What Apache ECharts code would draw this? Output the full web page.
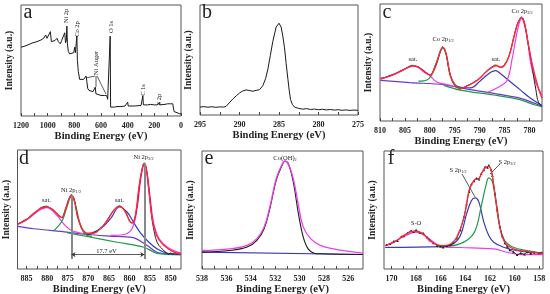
<!DOCTYPE html>
<html lang="en">
<head>
    <meta charset="UTF-8"/>
    <title>XPS spectra</title>
    <script src="https://cdn.jsdelivr.net/npm/echarts@6/dist/echarts.min.js"></script>
    <style>
        html, body { margin: 0; padding: 0; background: #fff; }
        #chart { width: 550px; height: 294px; }
    </style>
</head>
<body>
<div id="chart"></div>
<script type="text/javascript">
    // tick labels (binding energy, eV)
    var ticksA = [0, 200, 400, 600, 800, 1000, 1200];
    var ticksB = [275, 280, 285, 290, 295];
    var ticksC = [780, 785, 790, 795, 800, 805, 810];
    var ticksD = [850, 855, 860, 865, 870, 875, 880, 885];
    var ticksE = [526, 528, 530, 532, 534, 536, 538];
    var ticksF = [158, 160, 162, 164, 166, 168, 170];

    // a - survey [eV, intensity]
    var survey = [[1200,62],[1170,63],[1140,64.5],[1110,66],[1080,67],[1050,68.5],[1030,70],[1015,73],[1005,70],[990,71],
        [980,76],[972,67],[960,67],[945,68],[930,70],[920,67],[905,65],[895,68],[880,69],[872,75],[866,66],[860,68],[856,81],
        [852,65],[845,58],[835,56],[820,55],[805,57],[797,62],[792,57],[786,57],[781,72],[777,50],[770,40],[760,33],[745,32],
        [730,33],[718,34],[712,36],[706,31],[700,25],[690,23],[675,22.5],[660,22],[650,21],[643,26],[638,20],[625,19],[600,18.5],
        [575,18.5],[565,19],[558,18.5],[550,15],[535,14],[531,72],[528,8],[520,8],[500,8],[480,8.5],[450,8.5],[420,9],[405,9],
        [400,12.5],[396,9],[350,9],[300,9.5],[290,10],[286,18],[282,10],[250,10],[230,10.5],[225,9.5],[200,10],[180,10],
        [168,10.5],[164,12],[160,10],[120,10.5],[100,11],[80,11],[68,11.8],[62,11],[57,10.5],[52,4],[30,3],[10,2],[0,2]];

    // b - C 1s
    var c1s = [[295,7.2],[294.5,7.6],[294,7.1],[293.5,7.5],[293,7.0],[292.5,7.4],[292,7.2],[291.7,7.8],[291.3,11],[290.86,14.5],
        [290.4,17.5],[290,20],[289.6,21.8],[289.16,22.8],[288.7,22.2],[288.3,21.6],[287.9,22.4],[287.47,23],[287.05,26.6],
        [286.7,33],[286.4,42],[286.1,54],[285.78,67],[285.36,80],[285.0,83.4],[284.73,80],[284.5,71],[284.3,61],[284.1,47],
        [283.88,33],[283.7,22],[283.54,14],[283.3,9.5],[283.03,7.2],[282.5,6],[281.98,5.3],[281.5,5.8],[281,5],[280.5,5.4],
        [280,4.8],[279.5,5.2],[279,4.6],[278.5,5],[278,4.5],[277.5,4.8],[277,4.3],[276.5,4.6],[276,4.2],[275.5,4.5],[275,4.2]];

    // c - Co 2p
    var coRaw = [[809.9,36.5],[809,37.2],[808,38.8],[807,40.2],[806,42.6],[805,44.5],[804.3,46.2],[803.6,47.6],[803,47],
        [802.3,46.3],[801.6,44],[800.9,41.5],[800.3,39.8],[799.9,39.2],[799.4,42],[798.9,47.6],[798.4,53],[797.9,60],
        [797.4,63.5],[797,61],[796.7,57],[796.3,47],[795.9,39.5],[795.4,33],[794.9,30],[794.4,28.5],[793.9,27.4],[793.2,28.6],
        [792.5,30.3],[791.5,32.2],[790.5,35],[789.6,37.8],[788.8,41.9],[788.1,44.5],[787.5,46.3],[786.9,47.8],[786.6,47.6],
        [786.2,46.6],[785.8,46],[785.4,46.8],[785.1,47.8],[784.6,51],[784.1,56],[783.6,63.5],[783.1,72.8],[782.7,79.5],
        [782.3,84.5],[781.9,87.6],[781.6,88.8],[781.3,87.5],[781.0,83.5],[780.6,75],[780.3,66.5],[779.8,55],[779.4,45],
        [779.1,36],[778.7,26],[778.4,18.5],[778,14.5],[777.6,12.8]];
    var coEnv = [[809.9,36.1],[808,38.3],[806,42.2],[804.3,45.8],[803.3,47.2],[802.3,45.8],[800.9,41.1],[799.9,39.4],
        [798.9,47.2],[797.9,59.7],[797.4,63.1],[796.7,56.9],[795.9,38.9],[794.9,30],[793.9,27.8],[792.5,30],[790.5,34.7],
        [788.8,41.7],[787.5,45.8],[786.6,47.2],[785.8,45.8],[785.1,47.2],[784.1,55.6],[783.1,72.2],[782.3,83.9],[781.6,88.3],
        [781.0,83.3],[780.3,66.7],[779.4,47.2],[778.4,30.6],[777.5,19.4]];
    var coBg = [[809.9,34.7],[804,32.8],[797.2,31.1],[793.9,28.3],[787.2,23.6],[781.8,19.4],[779.1,15.3],[777.5,12.5]];
    var coBg2 = [[797.2,30.5],[793.9,26.4],[787.2,22.2],[781.8,18.1],[779.1,13.9],[777.5,12.3]];
    var coSat1 = [[809.9,35.6],[806,42.2],[803.3,47.2],[800.6,41.1],[798.6,33.3],[796.6,31.1],[793.9,28.3]];
    var coP12 = [[802.3,34],[800.6,35],[798.9,45.8],[797.9,58.9],[797.4,62.5],[796.7,56.1],[795.9,38.9],[794.9,31.1],[793.9,28.3]];
    var coSat2 = [[795,29.5],[791.9,28.3],[789.8,34.7],[787.8,41.7],[786.8,43.1],[785.8,40.3],[783.8,33.3],[781.8,26.4],
        [779.8,19.4],[777.5,13.3]];
    var coP32 = [[788.5,24.4],[785.8,30],[784.5,34.7],[783.5,52.8],[782.8,69.4],[782.1,83.3],[781.6,87.5],[781.1,83.3],
        [780.4,69.4],[779.8,50],[778.8,33.3],[777.5,22.2]];

    // d - Ni 2p
    var niRaw = [[887.2,38],[886.5,38.8],[885.8,40.5],[885,41.8],[884.2,44],[883.3,46.8],[882.5,48.6],[881.7,51.2],[880.9,52.4],
        [880.1,52.8],[879.3,51.4],[878.5,49.8],[877.6,46.5],[876.8,44],[876.4,43],[876,45.5],[875.6,50],[875.2,54],[874.8,58.2],
        [874.4,61.4],[874.1,62.6],[873.7,61],[873.4,58.5],[873,51],[872.6,44],[872,37.5],[871.5,33.5],[870.9,31.5],[870.3,29.6],
        [869.5,29.3],[868.7,30.4],[867.9,31.6],[867.1,34.2],[866.2,37],[865.4,41.3],[864.6,45.5],[863.8,49.6],[863,52.2],
        [862.4,53],[861.7,51.5],[861,48.3],[860.4,43.5],[859.8,39.8],[859.4,38.2],[858.9,40.5],[858.5,46],[858.1,55],
        [857.7,67.5],[857.3,77.5],[856.9,84.8],[856.6,88.5],[856.4,89],[856.2,88],[856,85.5],[855.7,79],[855.3,66],[854.9,54],
        [854.5,41],[854.1,33],[853.7,26.5],[853.3,22.5],[852.8,19.5],[852.3,17.8],[851.6,15.2],[851,13.6],[850.5,12.2],
        [850,13.5],[849.5,12.4],[849,13.6],[848.5,12.5],[848,13.3],[847.6,12.8]];
    var niEnv = [[887.2,37.5],[885,41.4],[883.3,46.5],[881.7,50.7],[880.1,52.1],[878.5,49.3],[876.8,43.7],[876.4,43.4],
        [875.6,49.3],[874.8,57.7],[874.1,62],[873.4,57.7],[872.6,43.7],[871.5,33.8],[870.3,30.1],[868.7,30.1],[867.1,33.8],
        [865.4,40.8],[863.8,49.3],[862.4,52.7],[861,47.9],[859.8,39.4],[859.3,39],[858.5,46.5],[857.7,69],[856.9,84.5],
        [856.4,88.7],[856,85.9],[855.3,66.2],[854.5,42.3],[853.3,27.3],[851.6,19.7],[849.6,14.9],[847.5,12.7]];
    var niBg = [[887.2,35.8],[883.3,33.8],[875.2,31],[870.3,29],[863,27.3],[858.9,26.2],[855.7,19.7],[853.3,14.1],[850.8,12.7],[847.5,12.1]];
    var niBg2 = [[875.2,30.5],[870.3,27.3],[863,22.5],[856.5,18.3],[853.3,13.2],[847.5,12.1]];
    var niSat1 = [[887.2,37.5],[885,41.4],[880.1,51.5],[877.6,45],[876,38],[874.4,33],[871.9,30.2],[870.3,29.2]];
    var niP12 = [[878.5,31.8],[876.4,40.3],[875.2,52.1],[874.1,61.1],[873.2,54.9],[871.9,36.6],[870.7,29],[869.1,27.3]];
    var niSat2 = [[870.3,29],[867.1,33.8],[864.6,42.3],[862.4,52.1],[860.6,47.9],[858.9,38.6],[857.3,30.1],[855.3,22.5],
        [853.3,16.9],[850.8,13.2],[847.5,12.4]];
    var niP32 = [[864.6,28.2],[861.4,29],[859.4,33.8],[858.1,52.1],[857.3,74.6],[856.4,88.2],[855.7,80.3],[854.9,57.7],
        [854.1,38],[852.8,25.4],[850.8,18.3],[847.5,13.2]];
    var splitY = 12.1;   // level of the 17.7 eV arrow

    // e - O 1s
    var oRaw = [[538,14.3],[535.7,15.7],[534.3,18.6],[533.5,24.3],[532.9,34.3],[532.4,52.9],[531.9,75.7],[531.4,88.6],
        [531.2,91.4],[530.9,88.6],[530.5,72.9],[530.1,47.1],[529.7,27.1],[529.3,17.1],[528.8,13.4],[528.3,12.9],[524.8,12.3]];
    var oFit = [[538,15.7],[535.7,17.1],[534.3,20],[533.5,25.7],[532.9,35.7],[532.4,54.3],[531.9,77.1],[531.4,89.4],
        [531.2,91.4],[530.9,88.6],[530.5,75.7],[530.1,54.3],[529.7,35.7],[529.1,25.7],[528.3,20],[527.2,17.1],[526.1,15.1],[524.8,13.4]];
    var oBg = [[538,14.3],[524.8,12.3]];

    // f - S 2p
    var sRaw = [[170.4,20.5],[170.1,21.5],[169.8,23.5],[169.5,24],[169.2,27.5],[169,28],[168.7,30.5],[168.4,32.5],[168.2,31.5],
        [168,33],[167.7,31],[167.4,30.2],[167.1,27],[166.9,24.5],[166.6,22],[166.3,20],[166,19.2],[165.8,18.5],[165.5,19.8],
        [165.2,20.5],[165,22.5],[164.7,26],[164.4,33],[164.1,44.5],[163.9,55],[163.7,65.5],[163.5,72],[163.3,74.5],[163.1,77],
        [162.9,76],[162.7,81],[162.5,84],[162.4,86.5],[162.2,86],[162.1,88],[161.9,84],[161.8,79],[161.6,64],[161.4,50],
        [161.2,36],[161,28],[160.8,22],[160.6,19],[160.4,16],[160.1,14.5],[159.8,12],[159.5,13.5],[159.2,12.5],[159,14.5],
        [158.7,13.2],[158.4,14],[158,13.5],[157.8,14]];
    var sEnv = [[170.5,19.8],[169.8,22.7],[169,28.3],[168.5,31.2],[168,32],[167.4,29.7],[166.9,24.1],[166.3,20.4],[165.8,19.8],
        [165.2,21.2],[164.7,26.9],[164.1,43.9],[163.7,66.6],[163.3,75.1],[162.9,76.5],[162.7,80.7],[162.4,85.8],[162.1,87],
        [161.9,83.6],[161.6,63.7],[161.2,35.4],[160.8,22.7],[160.1,17],[159,15],[157.7,13.3]];
    var sP12 = [[170.5,18.4],[165.8,19],[165,21.2],[164.4,28.3],[163.9,46.7],[163.5,58.1],[163.2,60.3],[162.9,56.7],[162.5,39.7],
        [162.1,28.3],[161.7,22.7],[160.9,18.4],[159.8,15.6],[157.7,13.3]];
    var sP32 = [[166.3,19],[165,19.8],[163.9,24.1],[163.2,32.6],[162.7,53.8],[162.3,72.2],[162.1,77.3],[161.8,73.7],[161.5,55.2],
        [161.2,35.4],[160.8,24.1],[160.1,18.4],[159,15.6],[157.7,13.3]];
    var sSO = [[170.5,19.8],[169.8,22.7],[169,27.5],[168,31.2],[167.1,26.9],[166.3,20.7],[165.5,18.4],[164.4,18.2],[161.7,17],
        [160.6,14.2],[159.5,12.2],[157.7,12.2]];

    var FONT = 'Liberation Serif';
    var BLACK = '#1a1a1a', RED = '#ff2a3a', MAG = '#ee3ee8', GREEN = '#1f9a45', BLUE = '#3a3ab8', PURP = '#6a3ad0';

    function mkGrid(l, t, w, h) {
        return {left: l, top: t, width: w, height: h, show: true, borderColor: '#555', borderWidth: 1,
            containLabel: false, outerBoundsMode: 'none'};
    }
    function mids(t) {
        var m = [];
        for (var i = 0; i < t.length - 1; i++) m.push((t[i] + t[i + 1]) / 2);
        return t.concat(m);
    }
    function mkX(gi, min, max, ticks, gap) {
        return {
            gridIndex: gi, type: 'value', inverse: true, min: min, max: max,
            axisLine: {show: false}, splitLine: {show: false},
            axisTick: {inside: true, length: 3, customValues: mids(ticks), lineStyle: {color: '#444', width: 1}},
            axisLabel: {customValues: ticks, fontFamily: FONT, fontWeight: 'bold', fontSize: 8, color: '#222', margin: 6,
                formatter: function (v) { return String(v); }},
            name: 'Binding Energy (eV)', nameLocation: 'middle', nameGap: gap,
            nameTextStyle: {fontFamily: FONT, fontWeight: 'bold', fontSize: 10.5, color: '#222'}
        };
    }
    function mkY(gi) {
        return {
            gridIndex: gi, type: 'value', min: 0, max: 100,
            axisLine: {show: false}, axisTick: {show: false}, axisLabel: {show: false}, splitLine: {show: false},
            name: 'Intensity (a.u.)', nameLocation: 'middle', nameGap: 6, nameRotate: 90,
            nameTextStyle: {fontFamily: FONT, fontWeight: 'bold', fontSize: 9.5, color: '#222'}
        };
    }
    function line(gi, data, color, width, smooth, z) {
        return {type: 'line', xAxisIndex: gi, yAxisIndex: gi, data: data, symbol: 'none', smooth: smooth,
            lineStyle: {color: color, width: width}, z: z || 2, silent: true, animation: false};
    }
    function txt(x, y, text, size, rot) {
        return {type: 'text', x: x, y: y, rotation: rot || 0,
            style: {text: text, fontFamily: FONT, fontSize: size, fill: '#222', align: 'center', verticalAlign: 'middle',
                rich: {s: {fontSize: size * 0.65, fontFamily: FONT, fill: '#222', padding: [size * 0.45, 0, 0, 0]}}}};
    }
    function seg(x1, y1, x2, y2) {
        return {type: 'line', shape: {x1: x1, y1: y1, x2: x2, y2: y2}, style: {stroke: '#333', lineWidth: 0.8}};
    }

    var series = [
        line(0, survey, BLACK, 1, false),
        line(1, c1s, BLACK, 1, false),
        line(2, coBg, PURP, 1.2, 0.3), line(2, coBg2, GREEN, 1.2, 0.3),
        line(2, coRaw, BLACK, 1, 0.2, 3),
        line(2, coSat1, MAG, 1.2, 0.4), line(2, coP12, GREEN, 1.2, 0.4),
        line(2, coSat2, BLUE, 1.2, 0.4), line(2, coP32, MAG, 1.2, 0.4),
        line(2, coEnv, RED, 1.4, 0.4, 4),
        line(3, niBg, PURP, 1.2, 0.3), line(3, niBg2, GREEN, 1.2, 0.3),
        line(3, niRaw, BLACK, 1, 0.2, 3),
        line(3, niSat1, MAG, 1.2, 0.4), line(3, niP12, GREEN, 1.2, 0.4),
        line(3, niSat2, BLUE, 1.2, 0.4), line(3, niP32, MAG, 1.2, 0.4),
        line(3, niEnv, RED, 1.4, 0.4, 4),
        line(4, oBg, BLUE, 1.2, false),
        line(4, oRaw, BLACK, 1.1, 0.4, 3),
        line(4, oFit, MAG, 1.3, 0.4, 4),
        line(5, sSO, MAG, 1.2, 0.4), line(5, sP12, BLUE, 1.2, 0.4), line(5, sP32, GREEN, 1.2, 0.4),
        line(5, sRaw, BLACK, 0.8, false, 3),
        line(5, sEnv, RED, 1.3, 0.4, 4)
    ];
    series[24].symbol = 'triangle';
    series[24].symbolSize = 2.5;
    series[24].showAllSymbol = true;
    series[24].itemStyle = {color: BLACK};

    // 17.7 eV splitting marker in panel d
    series[17].markLine = {
        silent: true, animation: false, label: {show: false},
        data: [
            [{coord: [874.1, 62], symbol: 'none'}, {coord: [874.1, 8.5], symbol: 'none',
                lineStyle: {color: '#888', width: 2, type: 'solid'}}],
            [{coord: [856.4, 88.7], symbol: 'none'}, {coord: [856.4, 8.5], symbol: 'none',
                lineStyle: {color: '#888', width: 2, type: 'solid'}}],
            [{coord: [874.1, splitY], symbol: 'arrow'}, {coord: [856.4, splitY], symbol: 'arrow',
                lineStyle: {color: '#333', width: 0.8, type: 'solid'}}]
        ],
        symbolSize: 4,
        lineStyle: {color: '#888', width: 2, type: 'solid'}
    };

    var option = {
        backgroundColor: '#fff',
        animation: false,
        grid: [mkGrid(21, 5, 160, 111), mkGrid(200, 5, 158, 110), mkGrid(380, 4, 162, 117),
            mkGrid(17.5, 150, 163.5, 119), mkGrid(202, 151, 161, 118), mkGrid(384, 151, 159, 118)],
        xAxis: [mkX(0, 0, 1200, ticksA, 15), mkX(1, 275, 295, ticksB, 15), mkX(2, 777.5, 810, ticksC, 15),
            mkX(3, 847.5, 887.2, ticksD, 14), mkX(4, 524.8, 538, ticksE, 14), mkX(5, 157.7, 170.6, ticksF, 14)],
        yAxis: [mkY(0), mkY(1), mkY(2), mkY(3), mkY(4), mkY(5)],
        series: series,
        graphic: [
            // panel letters
            txt(28, 13, 'a', 20), txt(207, 13, 'b', 20), txt(387, 13, 'c', 20),
            txt(24, 159, 'd', 20), txt(209, 159, 'e', 20), txt(391, 159, 'f', 20),
            // a
            txt(66.5, 16, 'Ni 2p', 6.5, Math.PI / 2), txt(77.5, 29, 'Co 2p', 6.5, Math.PI / 2),
            txt(111, 27, 'O 1s', 6.5, Math.PI / 2), txt(96.5, 63, 'Ni Auger', 6.5, Math.PI / 2),
            txt(143.5, 90, 'C 1s', 6.5, Math.PI / 2), txt(159.5, 99.5, 'S 2p', 6.5, Math.PI / 2),
            seg(95, 76, 86, 78), seg(96, 76, 96, 87), seg(97, 76, 106, 94),
            // c
            txt(413, 59, 'sat.', 6.5), txt(443, 39, 'Co 2p{s|1/2}', 6.5),
            txt(496, 59, 'sat.', 6.5), txt(522, 11, 'Co 2p{s|3/2}', 6.5),
            // d
            txt(46.5, 200, 'sat.', 6.5), txt(71, 190, 'Ni 2p{s|1/2}', 6.5),
            txt(119.5, 200, 'sat.', 6.5), txt(143.5, 157, 'Ni 2p{s|3/2}', 6.5),
            txt(106.5, 251, '17.7 eV', 6.5),
            // e
            txt(285, 158, 'Co(OH){s|2}', 6.5),
            // f
            txt(416, 223, 'S-O', 6.5), txt(458, 170, 'S 2p{s|1/2}', 6.5), txt(507, 162, 'S 2p{s|3/2}', 6.5),
            seg(462, 174, 475, 197), seg(500, 164, 490, 174)
        ]
    };

    var myChart = echarts.init(document.getElementById('chart'), null, {renderer: 'canvas'});
    myChart.setOption(option);
</script>
</body>
</html>
